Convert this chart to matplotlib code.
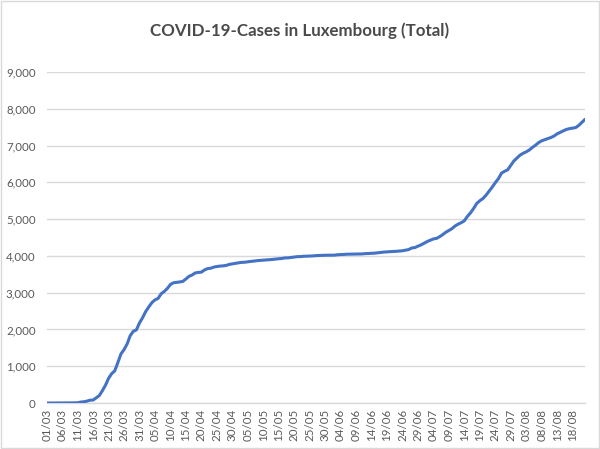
import matplotlib
matplotlib.use("Agg")
import matplotlib.pyplot as plt
import pandas as pd
from matplotlib.patches import Rectangle

title = "COVID-19-Cases in Luxembourg (Total)"
start_date = "2020-03-01"
end_date = "2020-08-22"

march = [0, 0, 0, 0, 1, 1, 2, 3, 5, 7, 7, 26, 34, 51, 77, 81, 140, 203, 335, 484,
         670, 798, 875, 1099, 1333, 1453, 1605, 1831, 1950, 1988, 2178]
april = [2319, 2487, 2612, 2729, 2804, 2843, 2970, 3034, 3115, 3223, 3270, 3281, 3292,
         3307, 3373, 3444, 3480, 3537, 3550, 3558, 3618, 3654, 3665, 3695, 3711, 3723,
         3729, 3741, 3769, 3784]
may = [3802, 3812, 3824, 3828, 3840, 3851, 3859, 3871, 3877, 3886, 3888, 3894, 3904,
       3915, 3923, 3930, 3945, 3947, 3958, 3971, 3980, 3981, 3990, 3993, 3995, 3999,
       4008, 4012, 4016, 4018, 4019]
june = [4019, 4020, 4032, 4035, 4040, 4046, 4047, 4048, 4049, 4052, 4054, 4062, 4066,
        4072, 4075, 4085, 4093, 4104, 4111, 4116, 4120, 4125, 4133, 4140, 4156, 4173,
        4216, 4226, 4265, 4299]
july = [4345, 4391, 4428, 4462, 4476, 4522, 4578, 4643, 4690, 4742, 4813, 4864, 4903,
        4956, 5075, 5172, 5291, 5425, 5500, 5560, 5650, 5760, 5870, 5990, 6100, 6249,
        6301, 6340, 6462, 6581, 6660]
august = [6740, 6790, 6830, 6880, 6950, 7010, 7080, 7130, 7160, 7190, 7220, 7260, 7320,
          7360, 7400, 7440, 7460, 7475, 7490, 7550, 7630, 7713]

cases = march + april + may + june + july + august
dates = pd.date_range(start_date, end_date, freq="D")
labels = [d.strftime("%d/%m") for d in dates]
label_step = 5
y_ticks = [0, 1000, 2000, 3000, 4000, 5000, 6000, 7000, 8000, 9000]

grey_text = "#595959"
grid_col = "#D9D9D9"
line_col = "#4472C4"

plt.rcParams['font.family'] = ['Lato', 'DejaVu Sans']

fig = plt.figure(figsize=(6, 4.49), dpi=100)
ax = fig.add_axes([0.0778, 0.1024, 0.975 - 0.0778, 0.8396 - 0.1024])

x = list(range(len(cases)))
ax.plot(x, cases, color=line_col, linewidth=2.2, solid_capstyle='round', solid_joinstyle='round', zorder=3)

ax.set_xlim(0, len(cases) - 1)
ax.set_ylim(0, 9000)
ax.set_yticks(y_ticks)
ax.set_yticklabels([f"{v:,}" for v in y_ticks], color=grey_text, fontsize=8.3)
tick_pos = x[::label_step]
ax.set_xticks(tick_pos)
ax.set_xticklabels(labels[::label_step], rotation=90, color=grey_text, fontsize=8.3)
ax.tick_params(axis='both', length=0)
ax.tick_params(axis='y', pad=8)
ax.tick_params(axis='x', pad=4)

ax.grid(axis='y', color=grid_col, linewidth=1.0)
ax.set_axisbelow(True)
for s in ['top', 'right', 'left']:
    ax.spines[s].set_visible(False)
ax.spines['bottom'].set_color(grid_col)
ax.spines['bottom'].set_linewidth(1.0)

fig.text(0.5, 1 - 30.5 / 449, title, ha='center', va='center', fontsize=12.2,
         fontweight='bold', color="#4a4a4a")

fig.patches.append(Rectangle((0.002, 0.002), 0.996, 0.995, transform=fig.transFigure,
                             fill=False, edgecolor=grid_col, linewidth=1.0))

fig.savefig("out.png", dpi=100)
